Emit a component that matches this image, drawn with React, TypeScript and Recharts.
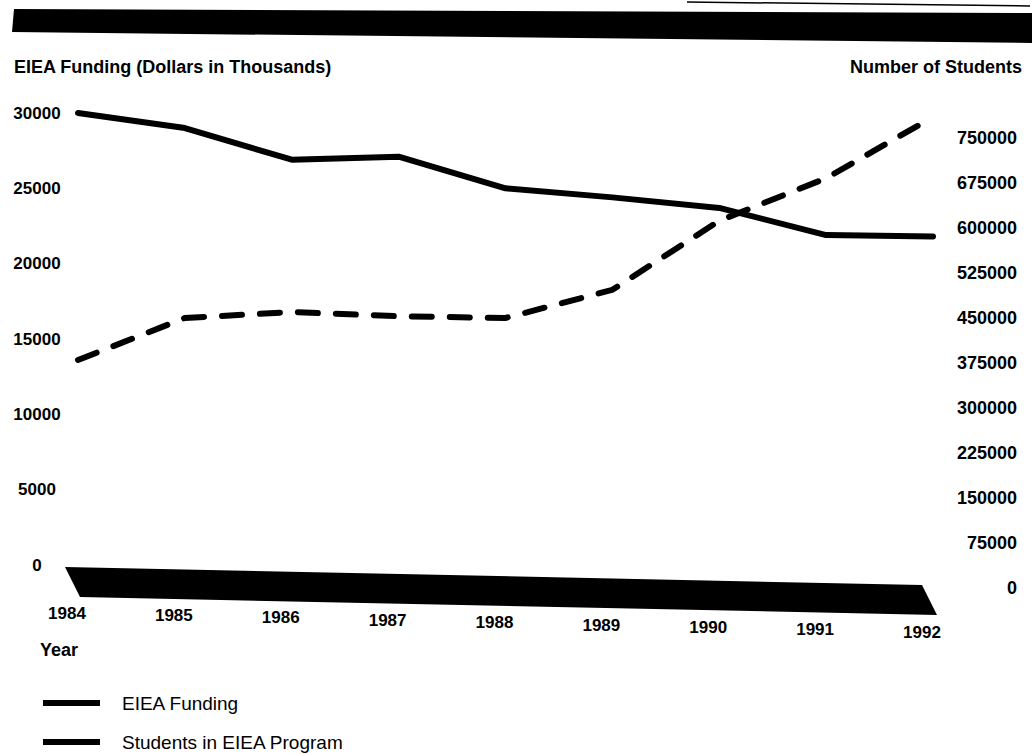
import { LineChart, Line, XAxis, YAxis } from 'recharts'

const years = ['1984', '1985', '1986', '1987', '1988', '1989', '1990', '1991', '1992']
// EIEA funding, dollars in thousands (left axis)
const funding = [30000, 29000, 26900, 27100, 25000, 24400, 23700, 21900, 21800]
// students in EIEA program (right axis)
const students = [380000, 450000, 460000, 453000, 450000, 497000, 612000, 683000, 785000]
const fundingTicks = [0, 5000, 10000, 15000, 20000, 25000, 30000]
const studentTicks = [0, 75000, 150000, 225000, 300000, 375000, 450000, 525000, 600000, 675000, 750000]

const legendItems = ['EIEA Funding', 'Students in EIEA Program']

const data = years.map((year, i) => ({
  year,
  funding: funding[i],
  students: students[i],
}))

const FONT = '"Liberation Sans", Arial, Helvetica, sans-serif'

const YearTick = ({ x, payload, index }: any) => (
  <text
    x={x - 11}
    y={613 + index * 2.4}
    textAnchor="middle"
    dominantBaseline="central"
    fontFamily={FONT}
    fontWeight={700}
    fontSize={17}
    fill="#000"
  >
    {payload.value}
  </text>
)

const LeftTick = ({ y, payload }: any) => (
  <text
    x={37}
    y={y}
    textAnchor="middle"
    dominantBaseline="central"
    fontFamily={FONT}
    fontWeight={700}
    fontSize={17}
    fill="#000"
  >
    {payload.value}
  </text>
)

const RightTick = ({ y, payload }: any) => (
  <text
    x={1017}
    y={y}
    textAnchor="end"
    dominantBaseline="central"
    fontFamily={FONT}
    fontWeight={700}
    fontSize={18}
    fill="#000"
  >
    {payload.value}
  </text>
)

export default function App() {
  return (
    <div
      style={{
        position: 'fixed',
        left: 0,
        top: 0,
        width: 1034,
        height: 755,
        background: '#fff',
        overflow: 'hidden',
      }}
    >
      <LineChart
        width={1034}
        height={755}
        data={data}
        margin={{ top: 113, right: 0, bottom: 135, left: 0 }}
      >
        <XAxis
          dataKey="year"
          height={30}
          axisLine={false}
          tickLine={false}
          interval={0}
          tick={<YearTick />}
        />
        <YAxis
          yAxisId="left"
          width={78}
          type="number"
          domain={[-1659, 30000]}
          ticks={fundingTicks}
          interval={0}
          axisLine={false}
          tickLine={false}
          tick={<LeftTick />}
        />
        <YAxis
          yAxisId="right"
          orientation="right"
          width={101}
          type="number"
          domain={[-3333, 791667]}
          ticks={studentTicks}
          interval={0}
          axisLine={false}
          tickLine={false}
          tick={<RightTick />}
        />
        <Line
          yAxisId="left"
          type="linear"
          dataKey="funding"
          stroke="#000"
          strokeWidth={6}
          strokeLinejoin="round"
          strokeLinecap="round"
          dot={false}
          isAnimationActive={false}
        />
        <Line
          yAxisId="right"
          type="linear"
          dataKey="students"
          stroke="#000"
          strokeWidth={6}
          strokeDasharray="20 18"
          strokeLinecap="round"
          dot={false}
          isAnimationActive={false}
        />
      </LineChart>

      {/* scanned header bar, floor band, titles and legend */}
      <svg
        width={1034}
        height={755}
        style={{ position: 'absolute', left: 0, top: 0, pointerEvents: 'none' }}
      >
        <polygon points="14,9 1032,13 1032,43 12,32" fill="#000" />
        <line x1={687} y1={2} x2={1030} y2={6} stroke="#000" strokeWidth={1.5} />
        <polygon points="65,567 922,585 937,615 80,597" fill="#000" />

        <text x={14} y={67} dominantBaseline="central" fontFamily={FONT} fontWeight={700} fontSize={18}>
          EIEA Funding (Dollars in Thousands)
        </text>
        <text x={1022} y={67} textAnchor="end" dominantBaseline="central" fontFamily={FONT} fontWeight={700} fontSize={18}>
          Number of Students
        </text>
        <text x={40} y={650} dominantBaseline="central" fontFamily={FONT} fontWeight={700} fontSize={18}>
          Year
        </text>

        {legendItems.map((label, i) => (
          <g key={label}>
            <line
              x1={43}
              x2={100}
              y1={703 + i * 39}
              y2={703 + i * 39}
              stroke="#000"
              strokeWidth={6}
            />
            <text
              x={122}
              y={703 + i * 39}
              dominantBaseline="central"
              fontFamily={FONT}
              fontSize={19}
            >
              {label}
            </text>
          </g>
        ))}
      </svg>
    </div>
  )
}
